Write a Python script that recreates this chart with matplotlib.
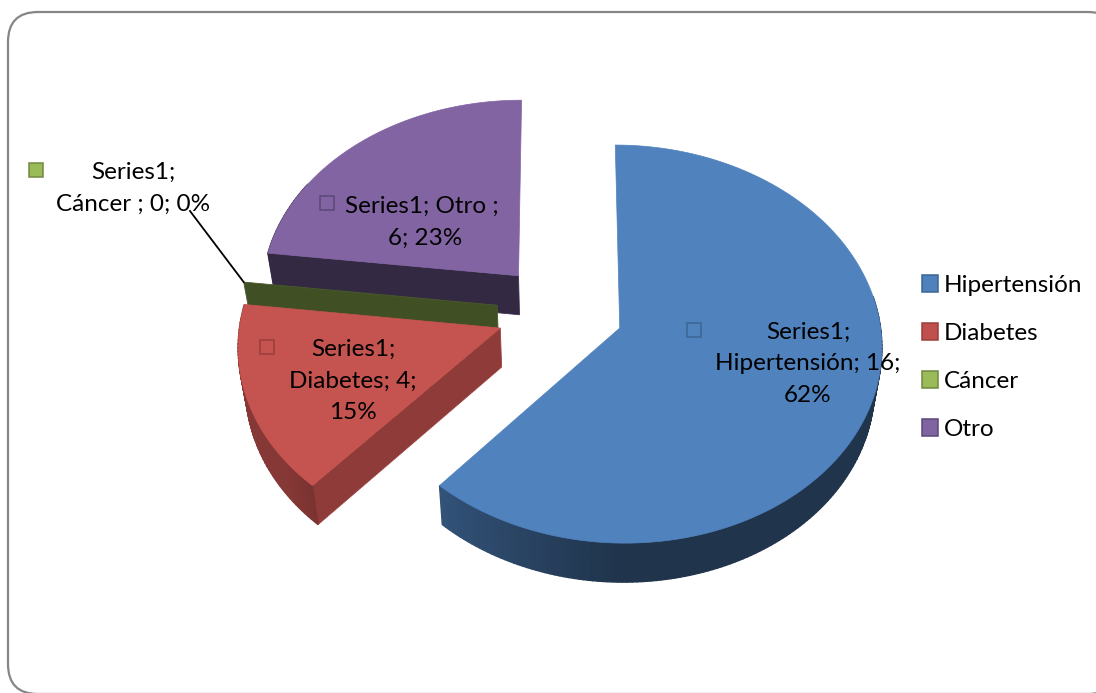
import numpy as np
import matplotlib
matplotlib.use("Agg")
import matplotlib.pyplot as plt
from matplotlib.patches import FancyBboxPatch, Polygon, Rectangle, Patch

plt.rcParams['font.family'] = ['Lato', 'DejaVu Sans']

# data
seriesName = "Series1"
categories = ["Hipertensión", "Diabetes", "Cáncer ", "Otro "]
values = [16, 4, 0, 6]
labelFormats = ["{s};\n{c}; {v};\n{p}%", "{s};\n{c}; {v};\n{p}%", "{s};\n{c}; {v}; {p}%", "{s}; {c}; \n{v}; {p}%"]

# colours
topColors = ["#4F81BD", "#C0504D", "#9BBB59", "#8064A2"]
surfaceColors = ["#5082BE", "#C5534F", "#9BBB59", "#8264A3"]
edgeColors = ["#3A6593", "#9A3E3B", "#71893F", "#5C4776"]
startWallShade = [0.40, 0.74, 0.42, 0.41]

# pie geometry, pixels
centerX, centerY = 560, 311
radiusX, radiusY = 259, 195
perspective = 0.08
explode = 0.245
depth = 39
depthShrink = 0.023

# draw order and label positions
drawOrder = [3, 2, 1, 0]
labelPos = [(808, 364), (353, 381), (133, 188), (425, 222)]
keyPos = [(694, 330), (267, 347), (36, 170), (327, 203)]
fontSize = 17.5


def project(x, y):
    w = 1 + perspective * y
    return centerX + radiusX * x / w, centerY - radiusY * y / w


def lower(sx, sy):
    return sx + depthShrink * (centerX - sx), sy + depth


def outerShade(theta):
    # the wall is darkest where it faces the viewer
    if theta >= 275:
        return 0.41
    return min(0.70, max(0.40, 0.40 + (theta - 180) * 0.0058))


def shaded(color, factor):
    return np.array(matplotlib.colors.to_rgb(color)) * factor


fig = plt.figure(figsize=(10.96, 6.93), dpi=100)
ax = fig.add_axes([0, 0, 1, 1])
ax.set_xlim(0, 1096)
ax.set_ylim(693, 0)
ax.axis('off')

ax.add_patch(FancyBboxPatch((8, 12), 1110, 682, boxstyle="round,pad=0,rounding_size=30",
                            facecolor='white', edgecolor='#868686', linewidth=1.6, zorder=0))

total = sum(values)
starts = np.cumsum([0] + values[:-1]) / total * 360
spans = np.array(values) / total * 360

for i in drawOrder:
    start, span = starts[i], spans[i]
    mid = np.radians(start + span / 2)
    offX, offY = explode * np.sin(mid), explode * np.cos(mid)

    thetas = np.linspace(start, start + span, max(2, int(span)))
    rad = np.radians(thetas)
    arc = np.array([project(offX + np.sin(t), offY + np.cos(t)) for t in rad])
    apex = np.array(project(offX, offY))
    arcLow = np.array([lower(*p) for p in arc])
    apexLow = np.array(lower(*apex))

    # radial wall at the start of the slice, hidden on the big slice
    if span < 180:
        ax.add_patch(Polygon([apex, arc[0], arcLow[0], apexLow], closed=True,
                             facecolor=shaded(topColors[i], startWallShade[i]),
                             edgecolor=shaded(topColors[i], startWallShade[i] + 0.06), linewidth=0.6))

    # outer wall, in thin strips for the gradient
    if span > 0:
        for k in range(len(arc) - 1):
            if thetas[k] < 80 or thetas[k] > 300:
                continue
            c = shaded(topColors[i], outerShade(thetas[k]))
            ax.add_patch(Polygon([arc[k], arc[k + 1], arcLow[k + 1], arcLow[k]], closed=True,
                                 facecolor=c, edgecolor=c, linewidth=1.0))
        ax.add_patch(Polygon(np.vstack([apex, arc]), closed=True, facecolor=surfaceColors[i],
                             edgecolor=surfaceColors[i], linewidth=0.5))

# leader line for the empty slice
mid = np.radians(starts[2])
leadEnd = project(explode * np.sin(mid) + np.sin(mid), explode * np.cos(mid) + np.cos(mid))
ax.plot([190, leadEnd[0]], [211, leadEnd[1]], color='black', linewidth=1.3)

for i, cat in enumerate(categories):
    pct = round(values[i] / total * 100)
    txt = labelFormats[i].format(s=seriesName, c=cat, v=values[i], p=pct)
    ax.text(labelPos[i][0], labelPos[i][1], txt, ha='center', va='center', fontsize=fontSize,
            color='black', linespacing=1.63)
    ax.add_patch(Rectangle((keyPos[i][0] - 7, keyPos[i][1] - 7), 14, 14, facecolor=surfaceColors[i],
                           edgecolor=edgeColors[i], linewidth=1.1))

handles = [Patch(facecolor=topColors[i], edgecolor=edgeColors[i], linewidth=1.1) for i in range(4)]
ax.legend(handles, [c.strip() for c in categories], loc='upper left', bbox_to_anchor=(922, 275),
          bbox_transform=ax.transData, frameon=False, fontsize=fontSize, borderpad=0, borderaxespad=0,
          handlelength=0.66, handleheight=0.66, handletextpad=0.25, labelspacing=1.11)

fig.savefig("out.png", dpi=100)
